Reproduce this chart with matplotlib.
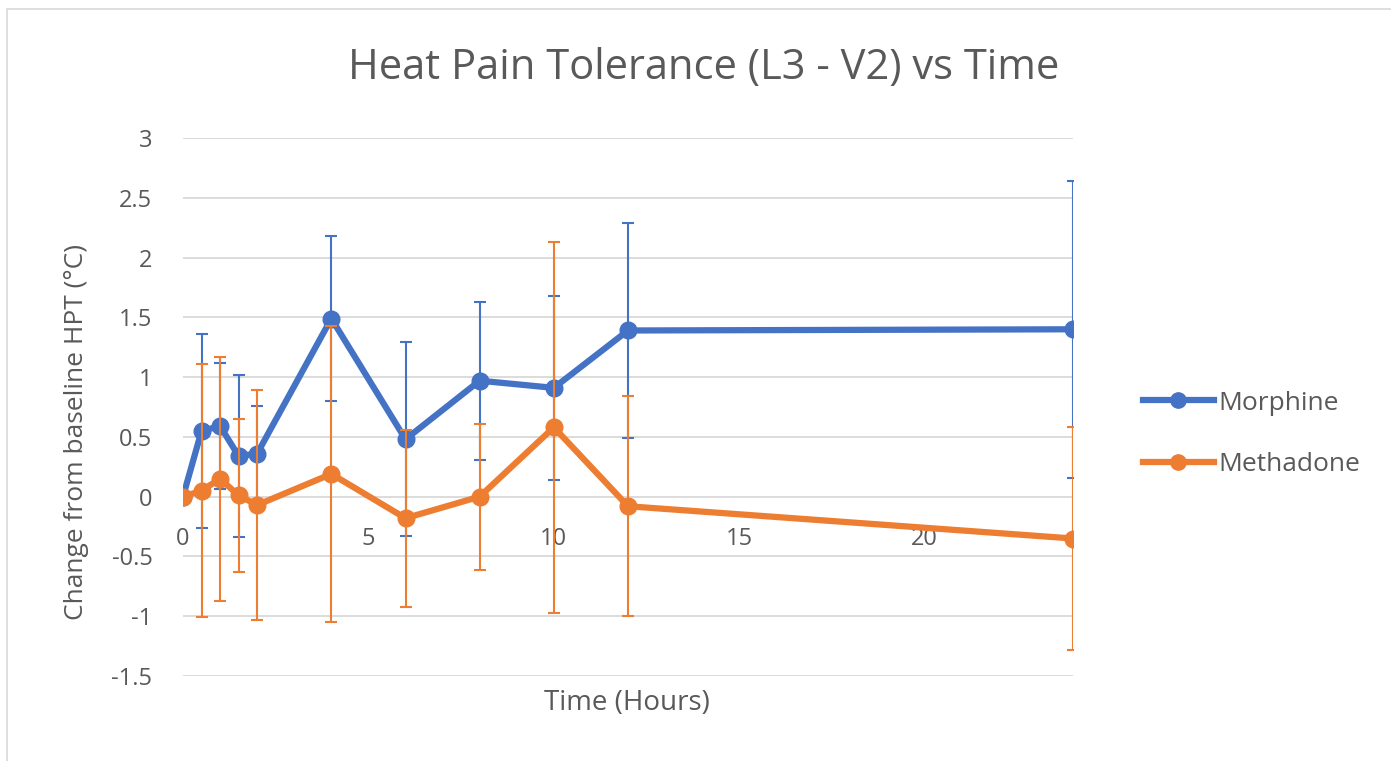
import matplotlib.pyplot as plt
from matplotlib.patches import Rectangle
from matplotlib.lines import Line2D

# data
hours = [0, 0.5, 1, 1.5, 2, 4, 6, 8, 10, 12, 24]
morphine = [0, 0.55, 0.59, 0.34, 0.36, 1.49, 0.48, 0.97, 0.91, 1.39, 1.40]
morphine_err = [0, 0.81, 0.53, 0.68, 0.40, 0.69, 0.81, 0.66, 0.77, 0.90, 1.24]
methadone = [0, 0.05, 0.15, 0.01, -0.07, 0.19, -0.18, 0.0, 0.58, -0.08, -0.35]
methadone_err = [0, 1.06, 1.02, 0.64, 0.96, 1.24, 0.74, 0.61, 1.55, 0.92, 0.93]
x_ticks = [0, 5, 10, 15, 20]
y_ticks = [-1.5, -1, -0.5, 0, 0.5, 1, 1.5, 2, 2.5, 3]

plt.rcParams['font.family'] = ['Open Sans', 'DejaVu Sans']
text_color = '#595959'
blue = '#4472C4'
orange = '#ED7D31'

fig = plt.figure(figsize=(13.91, 7.61), dpi=100)
fig.patches.append(Rectangle((7 / 1391, -0.1), 1.2, 1.1 - 9 / 761, transform=fig.transFigure,
                             fill=False, edgecolor='#D9D9D9', linewidth=1.2))
ax = fig.add_axes([183 / 1391, 1 - 676 / 761, 890 / 1391, 538 / 761])

ax.errorbar(hours, morphine, yerr=morphine_err, color=blue, linewidth=4.5,
            marker='o', markersize=12, ecolor=blue, elinewidth=1.5, capsize=4.5,
            capthick=1.5, zorder=3)
ax.errorbar(hours, methadone, yerr=methadone_err, color=orange, linewidth=4.5,
            marker='o', markersize=12, ecolor=orange, elinewidth=1.5, capsize=4.5,
            capthick=1.5, zorder=4)

ax.set_xlim(0, 24)
ax.set_ylim(-1.5, 3)
ax.set_xticks(x_ticks)
ax.set_yticks(y_ticks)
ax.set_yticklabels([f'{v:g}' for v in y_ticks])
ax.yaxis.grid(True, color='#D9D9D9', linewidth=1.3)
ax.set_axisbelow(True)
for side in ['top', 'right', 'left']:
    ax.spines[side].set_visible(False)
ax.spines['bottom'].set_position(('data', 0))
ax.spines['bottom'].set_visible(False)
ax.tick_params(axis='both', length=0, labelsize=17, labelcolor=text_color)
ax.tick_params(axis='x', pad=22)
ax.tick_params(axis='y', pad=22)

fig.text(704 / 1391, 1 - 68 / 761, 'Heat Pain Tolerance (L3 - V2) vs Time', ha='center',
         va='center', fontsize=30, color=text_color)
fig.text(627 / 1391, 1 - 703 / 761, 'Time (Hours)', ha='center', va='center',
         fontsize=20, color=text_color)
fig.text(77 / 1391, 1 - 432 / 761, 'Change from baseline HPT (°C)', ha='center',
         va='center', rotation=90, fontsize=19, color=text_color)

handles = [Line2D([], [], color=blue, linewidth=4.5, marker='o', markersize=11),
           Line2D([], [], color=orange, linewidth=4.5, marker='o', markersize=11)]
fig.legend(handles, ['Morphine', 'Methadone'], loc='center left',
           bbox_to_anchor=(1119 / 1391, 1 - 434 / 761), frameon=False,
           fontsize=19, labelcolor=text_color, handlelength=2.7, handletextpad=0.15,
           labelspacing=1.4)

plt.savefig('out.png', dpi=100)
